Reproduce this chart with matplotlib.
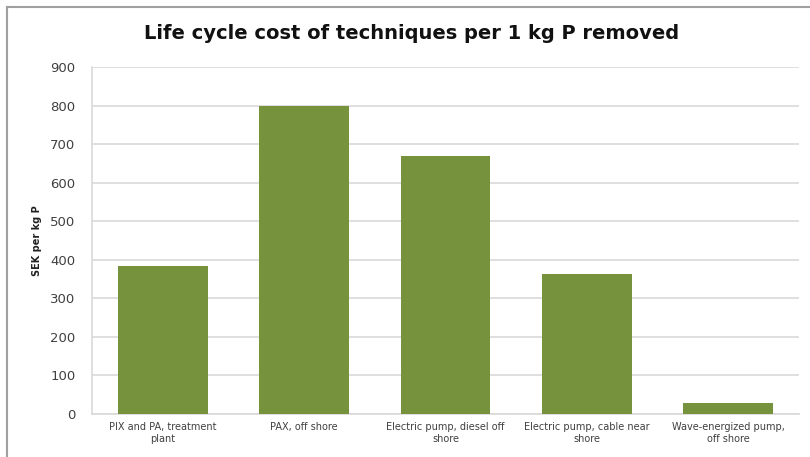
import matplotlib.pyplot as plt
from matplotlib.lines import Line2D

# Chart data
categories = ['PIX and PA, treatment\nplant', 'PAX, off shore',
              'Electric pump, diesel off\nshore', 'Electric pump, cable near\nshore',
              'Wave-energized pump,\noff shore']
values = [383, 800, 670, 363, 28]
yticks = [0, 100, 200, 300, 400, 500, 600, 700, 800, 900]

fig = plt.figure(figsize=(8.1, 4.57), dpi=100)
ax = fig.add_axes([0.1136, 0.0941, 0.8728, 0.7593])

x = range(len(categories))
ax.bar(x, values, width=0.635, color='#76923C', zorder=3)

ax.set_xlim(-0.5, len(categories) - 0.5)
ax.set_ylim(0, 900)
ax.set_yticks(yticks)
ax.set_xticks(list(x))
ax.set_xticklabels(categories, fontsize=7, color='#404040')
ax.tick_params(axis='y', labelsize=9.5, colors='#404040', length=0, pad=12)
ax.tick_params(axis='x', length=0, pad=6)
ax.grid(axis='y', color='#d9d9d9', linewidth=1.2, zorder=0)

for s in ['top', 'right']:
    ax.spines[s].set_visible(False)
ax.spines['left'].set_color('#d9d9d9')
ax.spines['bottom'].set_color('#d9d9d9')
ax.spines['left'].set_linewidth(1.2)
ax.spines['bottom'].set_linewidth(1.2)

ax.set_ylabel('SEK per kg P', fontsize=7, fontweight='bold', color='#222222', labelpad=6)
fig.text(0.508, 0.926, 'Life cycle cost of techniques per 1 kg P removed',
         ha='center', va='center', fontsize=14, fontweight='bold', color='#111111')

# outer chart frame
fig.add_artist(Line2D([7 / 810, 7 / 810], [0, 1 - 7 / 457], transform=fig.transFigure,
                      color='#a0a0a0', linewidth=1.5))
fig.add_artist(Line2D([7 / 810, 1], [1 - 7 / 457, 1 - 7 / 457], transform=fig.transFigure,
                      color='#a0a0a0', linewidth=1.5))

plt.savefig('out.png', dpi=100)
plt.close()
